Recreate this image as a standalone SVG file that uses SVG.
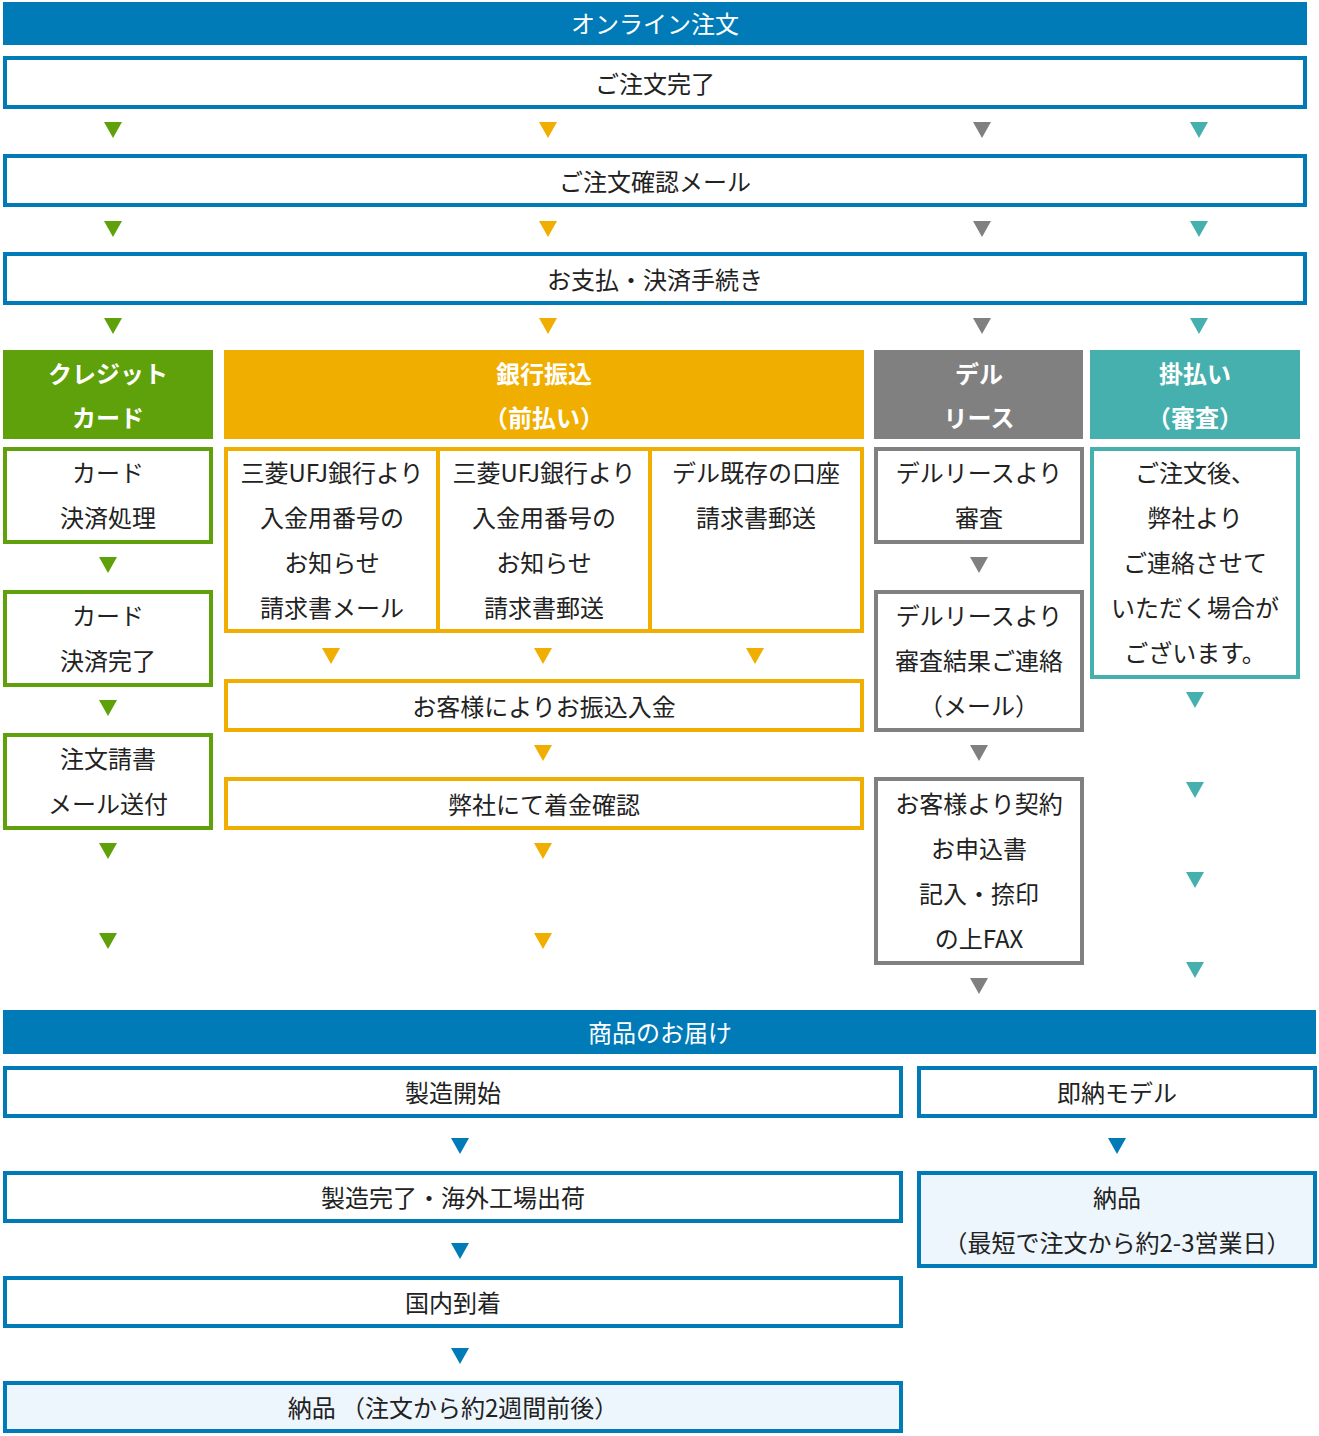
<svg xmlns="http://www.w3.org/2000/svg" width="1319" height="1436" viewBox="0 0 1319 1436">
<style>
text{font-family:"Noto Sans CJK JP","Noto Sans",sans-serif;font-size:24px;fill:#222;text-anchor:middle;dominant-baseline:central}
.w{fill:#fff}.b{font-weight:bold}
.bb{fill:#fff;stroke:#007bb8;stroke-width:4}
.lb{fill:#eef6fd;stroke:#007bb8;stroke-width:4}
.gb{fill:#fff;stroke:#5fa10a;stroke-width:4}
.ob{fill:#fff;stroke:#f0ae00;stroke-width:4}
.yb{fill:#fff;stroke:#808080;stroke-width:4}
.tb{fill:#fff;stroke:#45b0ad;stroke-width:4}
.ag{fill:#5fa10a}.ao{fill:#f0ae00}.ay{fill:#808080}.at{fill:#45b0ad}.ab{fill:#007bb8}
</style>
<defs><path id="tri" d="M-9,-8 H9 L0,8 Z"/></defs>
<g id="connectors">
<use href="#tri" x="113" y="130" class="ag"/><use href="#tri" x="548" y="130" class="ao"/><use href="#tri" x="982" y="130" class="ay"/><use href="#tri" x="1199" y="130" class="at"/>
<use href="#tri" x="113" y="229" class="ag"/><use href="#tri" x="548" y="229" class="ao"/><use href="#tri" x="982" y="229" class="ay"/><use href="#tri" x="1199" y="229" class="at"/>
<use href="#tri" x="113" y="326" class="ag"/><use href="#tri" x="548" y="326" class="ao"/><use href="#tri" x="982" y="326" class="ay"/><use href="#tri" x="1199" y="326" class="at"/>
<use href="#tri" x="108" y="565" class="ag"/><use href="#tri" x="108" y="708" class="ag"/><use href="#tri" x="108" y="851" class="ag"/><use href="#tri" x="108" y="941" class="ag"/>
<use href="#tri" x="331" y="656" class="ao"/><use href="#tri" x="543" y="656" class="ao"/><use href="#tri" x="755" y="656" class="ao"/>
<use href="#tri" x="543" y="753" class="ao"/><use href="#tri" x="543" y="851" class="ao"/><use href="#tri" x="543" y="941" class="ao"/>
<use href="#tri" x="979" y="565" class="ay"/><use href="#tri" x="979" y="753" class="ay"/><use href="#tri" x="979" y="986" class="ay"/>
<use href="#tri" x="1195" y="700" class="at"/><use href="#tri" x="1195" y="790" class="at"/><use href="#tri" x="1195" y="880" class="at"/><use href="#tri" x="1195" y="970" class="at"/>
<use href="#tri" x="460" y="1146" class="ab"/><use href="#tri" x="460" y="1251" class="ab"/><use href="#tri" x="460" y="1356" class="ab"/><use href="#tri" x="1117" y="1146" class="ab"/>
</g>
<g id="h1"><rect x="3" y="2" width="1304" height="43" fill="#007bb8"/><text x="655" y="22" class="w">オンライン注文</text></g>
<g id="n1"><rect x="5" y="58" width="1300" height="49" class="bb"/><text x="655" y="82">ご注文完了</text></g>
<g id="n2"><rect x="5" y="156" width="1300" height="49" class="bb"/><text x="655" y="180">ご注文確認メール</text></g>
<g id="n3"><rect x="5" y="254" width="1300" height="49" class="bb"/><text x="655" y="278">お支払・決済手続き</text></g>
<g id="hg"><rect x="3" y="350" width="210" height="89" fill="#5fa10a"/><text x="108" y="372" class="w b">クレジット</text><text x="108" y="416" class="w b">カード</text></g>
<g id="ho"><rect x="224" y="350" width="640" height="89" fill="#f0ae00"/><text x="544" y="372" class="w b">銀行振込</text><text x="544" y="416" class="w b">（前払い）</text></g>
<g id="hy"><rect x="874" y="350" width="209" height="89" fill="#808080"/><text x="979" y="372" class="w b">デル</text><text x="979" y="416" class="w b">リース</text></g>
<g id="ht"><rect x="1090" y="350" width="210" height="89" fill="#45b0ad"/><text x="1195" y="372" class="w b">掛払い</text><text x="1195" y="416" class="w b">（審査）</text></g>
<g id="g1"><rect x="5" y="449" width="206" height="93" class="gb"/><text x="108" y="471">カード</text><text x="108" y="516">決済処理</text></g>
<g id="g2"><rect x="5" y="592" width="206" height="93" class="gb"/><text x="108" y="614">カード</text><text x="108" y="659">決済完了</text></g>
<g id="g3"><rect x="5" y="735" width="206" height="93" class="gb"/><text x="108" y="757">注文請書</text><text x="108" y="802">メール送付</text></g>
<g id="o1"><rect x="226" y="449" width="636" height="182" class="ob"/><line x1="438" y1="449" x2="438" y2="631" stroke="#f0ae00" stroke-width="4"/><line x1="650" y1="449" x2="650" y2="631" stroke="#f0ae00" stroke-width="4"/>
<text x="332" y="471">三菱UFJ銀行より</text><text x="332" y="516">入金用番号の</text><text x="332" y="561">お知らせ</text><text x="332" y="606">請求書メール</text>
<text x="544" y="471">三菱UFJ銀行より</text><text x="544" y="516">入金用番号の</text><text x="544" y="561">お知らせ</text><text x="544" y="606">請求書郵送</text>
<text x="756" y="471">デル既存の口座</text><text x="756" y="516">請求書郵送</text></g>
<g id="o2"><rect x="226" y="681" width="636" height="49" class="ob"/><text x="544" y="705">お客様によりお振込入金</text></g>
<g id="o3"><rect x="226" y="779" width="636" height="49" class="ob"/><text x="544" y="803">弊社にて着金確認</text></g>
<g id="y1"><rect x="876" y="449" width="206" height="93" class="yb"/><text x="979" y="471">デルリースより</text><text x="979" y="516">審査</text></g>
<g id="y2"><rect x="876" y="592" width="206" height="138" class="yb"/><text x="979" y="614">デルリースより</text><text x="979" y="659">審査結果ご連絡</text><text x="979" y="704">（メール）</text></g>
<g id="y3"><rect x="876" y="779" width="206" height="184" class="yb"/><text x="979" y="802">お客様より契約</text><text x="979" y="847">お申込書</text><text x="979" y="892">記入・捺印</text><text x="979" y="937">の上FAX</text></g>
<g id="t1"><rect x="1092" y="449" width="206" height="228" class="tb"/><text x="1195" y="471">ご注文後、</text><text x="1195" y="516">弊社より</text><text x="1195" y="561">ご連絡させて</text><text x="1195" y="606">いただく場合が</text><text x="1195" y="651">ございます。</text></g>
<g id="h2"><rect x="3" y="1010" width="1313" height="44" fill="#007bb8"/><text x="660" y="1031" class="w">商品のお届け</text></g>
<g id="b1"><rect x="5" y="1068" width="896" height="48" class="bb"/><text x="453" y="1091">製造開始</text></g>
<g id="b2"><rect x="5" y="1173" width="896" height="48" class="bb"/><text x="453" y="1196">製造完了・海外工場出荷</text></g>
<g id="b3"><rect x="5" y="1278" width="896" height="48" class="bb"/><text x="453" y="1301">国内到着</text></g>
<g id="b4"><rect x="5" y="1383" width="896" height="48" class="lb"/><text x="453" y="1406">納品 （注文から約2週間前後）</text></g>
<g id="r1"><rect x="919" y="1068" width="396" height="48" class="bb"/><text x="1117" y="1091">即納モデル</text></g>
<g id="r2"><rect x="919" y="1173" width="396" height="93" class="lb"/><text x="1117" y="1196">納品</text><text x="1117" y="1241">（最短で注文から約2-3営業日）</text></g>
</svg>
